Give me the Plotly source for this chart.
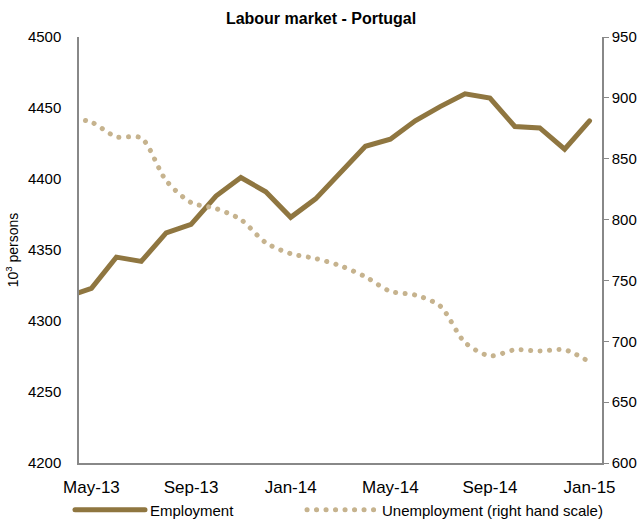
import plotly.graph_objects as go

months = ["Apr-13", "May-13", "Jun-13", "Jul-13", "Aug-13", "Sep-13", "Oct-13", "Nov-13",
          "Dec-13", "Jan-14", "Feb-14", "Mar-14", "Apr-14", "May-14", "Jun-14", "Jul-14",
          "Aug-14", "Sep-14", "Oct-14", "Nov-14", "Dec-14", "Jan-15"]
employment = [4317, 4323, 4345, 4342, 4362, 4368, 4388, 4401,
              4391, 4373, 4386, 4405, 4423, 4428, 4441, 4451,
              4460, 4457, 4437, 4436, 4421, 4441]
unemployment = [884, 880, 868, 867, 832, 814, 809, 800,
                781, 772, 768, 762, 753, 741, 738, 729,
                699, 688, 693, 692, 693, 683]
tick_labels = ["May-13", "Sep-13", "Jan-14", "May-14", "Sep-14", "Jan-15"]

FONT = "Liberation Sans, Arial, sans-serif"
EMP_COLOR = "#8F7640"
UNEMP_COLOR = "#C6B38E"
AXIS_COLOR = "#888888"

fig = go.Figure()
fig.add_trace(go.Scatter(
    x=months, y=employment, name="Employment", mode="lines",
    line=dict(color=EMP_COLOR, width=5), legend="legend"))
fig.add_trace(go.Scatter(
    x=months, y=unemployment, name="Unemployment (right hand scale)", mode="lines",
    line=dict(color=UNEMP_COLOR, width=5, dash="0.1px,9.4px", shape="spline", smoothing=0.8),
    yaxis="y2", legend="legend2"))

fig.update_layout(
    width=644, height=519,
    margin=dict(l=79, r=42, t=37, b=56, autoexpand=False),
    paper_bgcolor="white", plot_bgcolor="white",
    font=dict(family=FONT, size=15, color="black"),
    title=dict(text="<b>Labour market - Portugal</b>", x=321 / 644, xref="container",
               xanchor="center", y=1 - 18 / 519, yref="container", yanchor="middle",
               font=dict(family=FONT, size=16, color="black")),
    showlegend=True,
    legend=dict(x=70 / 644, y=1 - 510 / 519, xref="container", yref="container",
                xanchor="left", yanchor="middle", orientation="h",
                font=dict(family=FONT, size=15), itemwidth=70,
                bgcolor="rgba(0,0,0,0)", borderwidth=0, tracegroupgap=0),
    legend2=dict(x=302 / 644, y=1 - 510 / 519, xref="container", yref="container",
                 xanchor="left", yanchor="middle", orientation="h",
                 font=dict(family=FONT, size=15), itemwidth=70,
                 bgcolor="rgba(0,0,0,0)", borderwidth=0, tracegroupgap=0),
    xaxis=dict(type="category", range=[0.5, len(months) - 0.5], automargin=False,
               tickmode="array", tickvals=tick_labels, ticktext=tick_labels,
               showgrid=False, zeroline=False, showline=True, linecolor=AXIS_COLOR,
               linewidth=1.5, ticks="outside", ticklen=8, tickcolor="rgba(0,0,0,0)",
               tickfont=dict(family=FONT, size=17)),
    yaxis=dict(range=[4200, 4500], dtick=50, showgrid=False, zeroline=False,
               automargin=False,
               showline=True, linecolor=AXIS_COLOR, linewidth=1.5,
               ticks="outside", ticklen=13, tickcolor="rgba(0,0,0,0)",
               tickfont=dict(family=FONT, size=15),
               title=dict(text="10<sup>3</sup> persons", standoff=6,
                          font=dict(family=FONT, size=14))),
    yaxis2=dict(range=[600, 950], dtick=50, overlaying="y", side="right",
                automargin=False,
                showgrid=False, zeroline=False, showline=True, linecolor=AXIS_COLOR,
                linewidth=1.5, ticks="outside", ticklen=5, tickcolor=AXIS_COLOR,
                tickfont=dict(family=FONT, size=15)),
)

page_style = (
    "var s=document.createElement('style');"
    "s.textContent='html, body {margin:0; padding:0;} "
    ".scatterlayer .js-line, .legendlines path {stroke-linecap: round !important;}';"
    "document.head.appendChild(s);"
)
fig.write_html("out.html", post_script=page_style,
               config={"displayModeBar": False})
